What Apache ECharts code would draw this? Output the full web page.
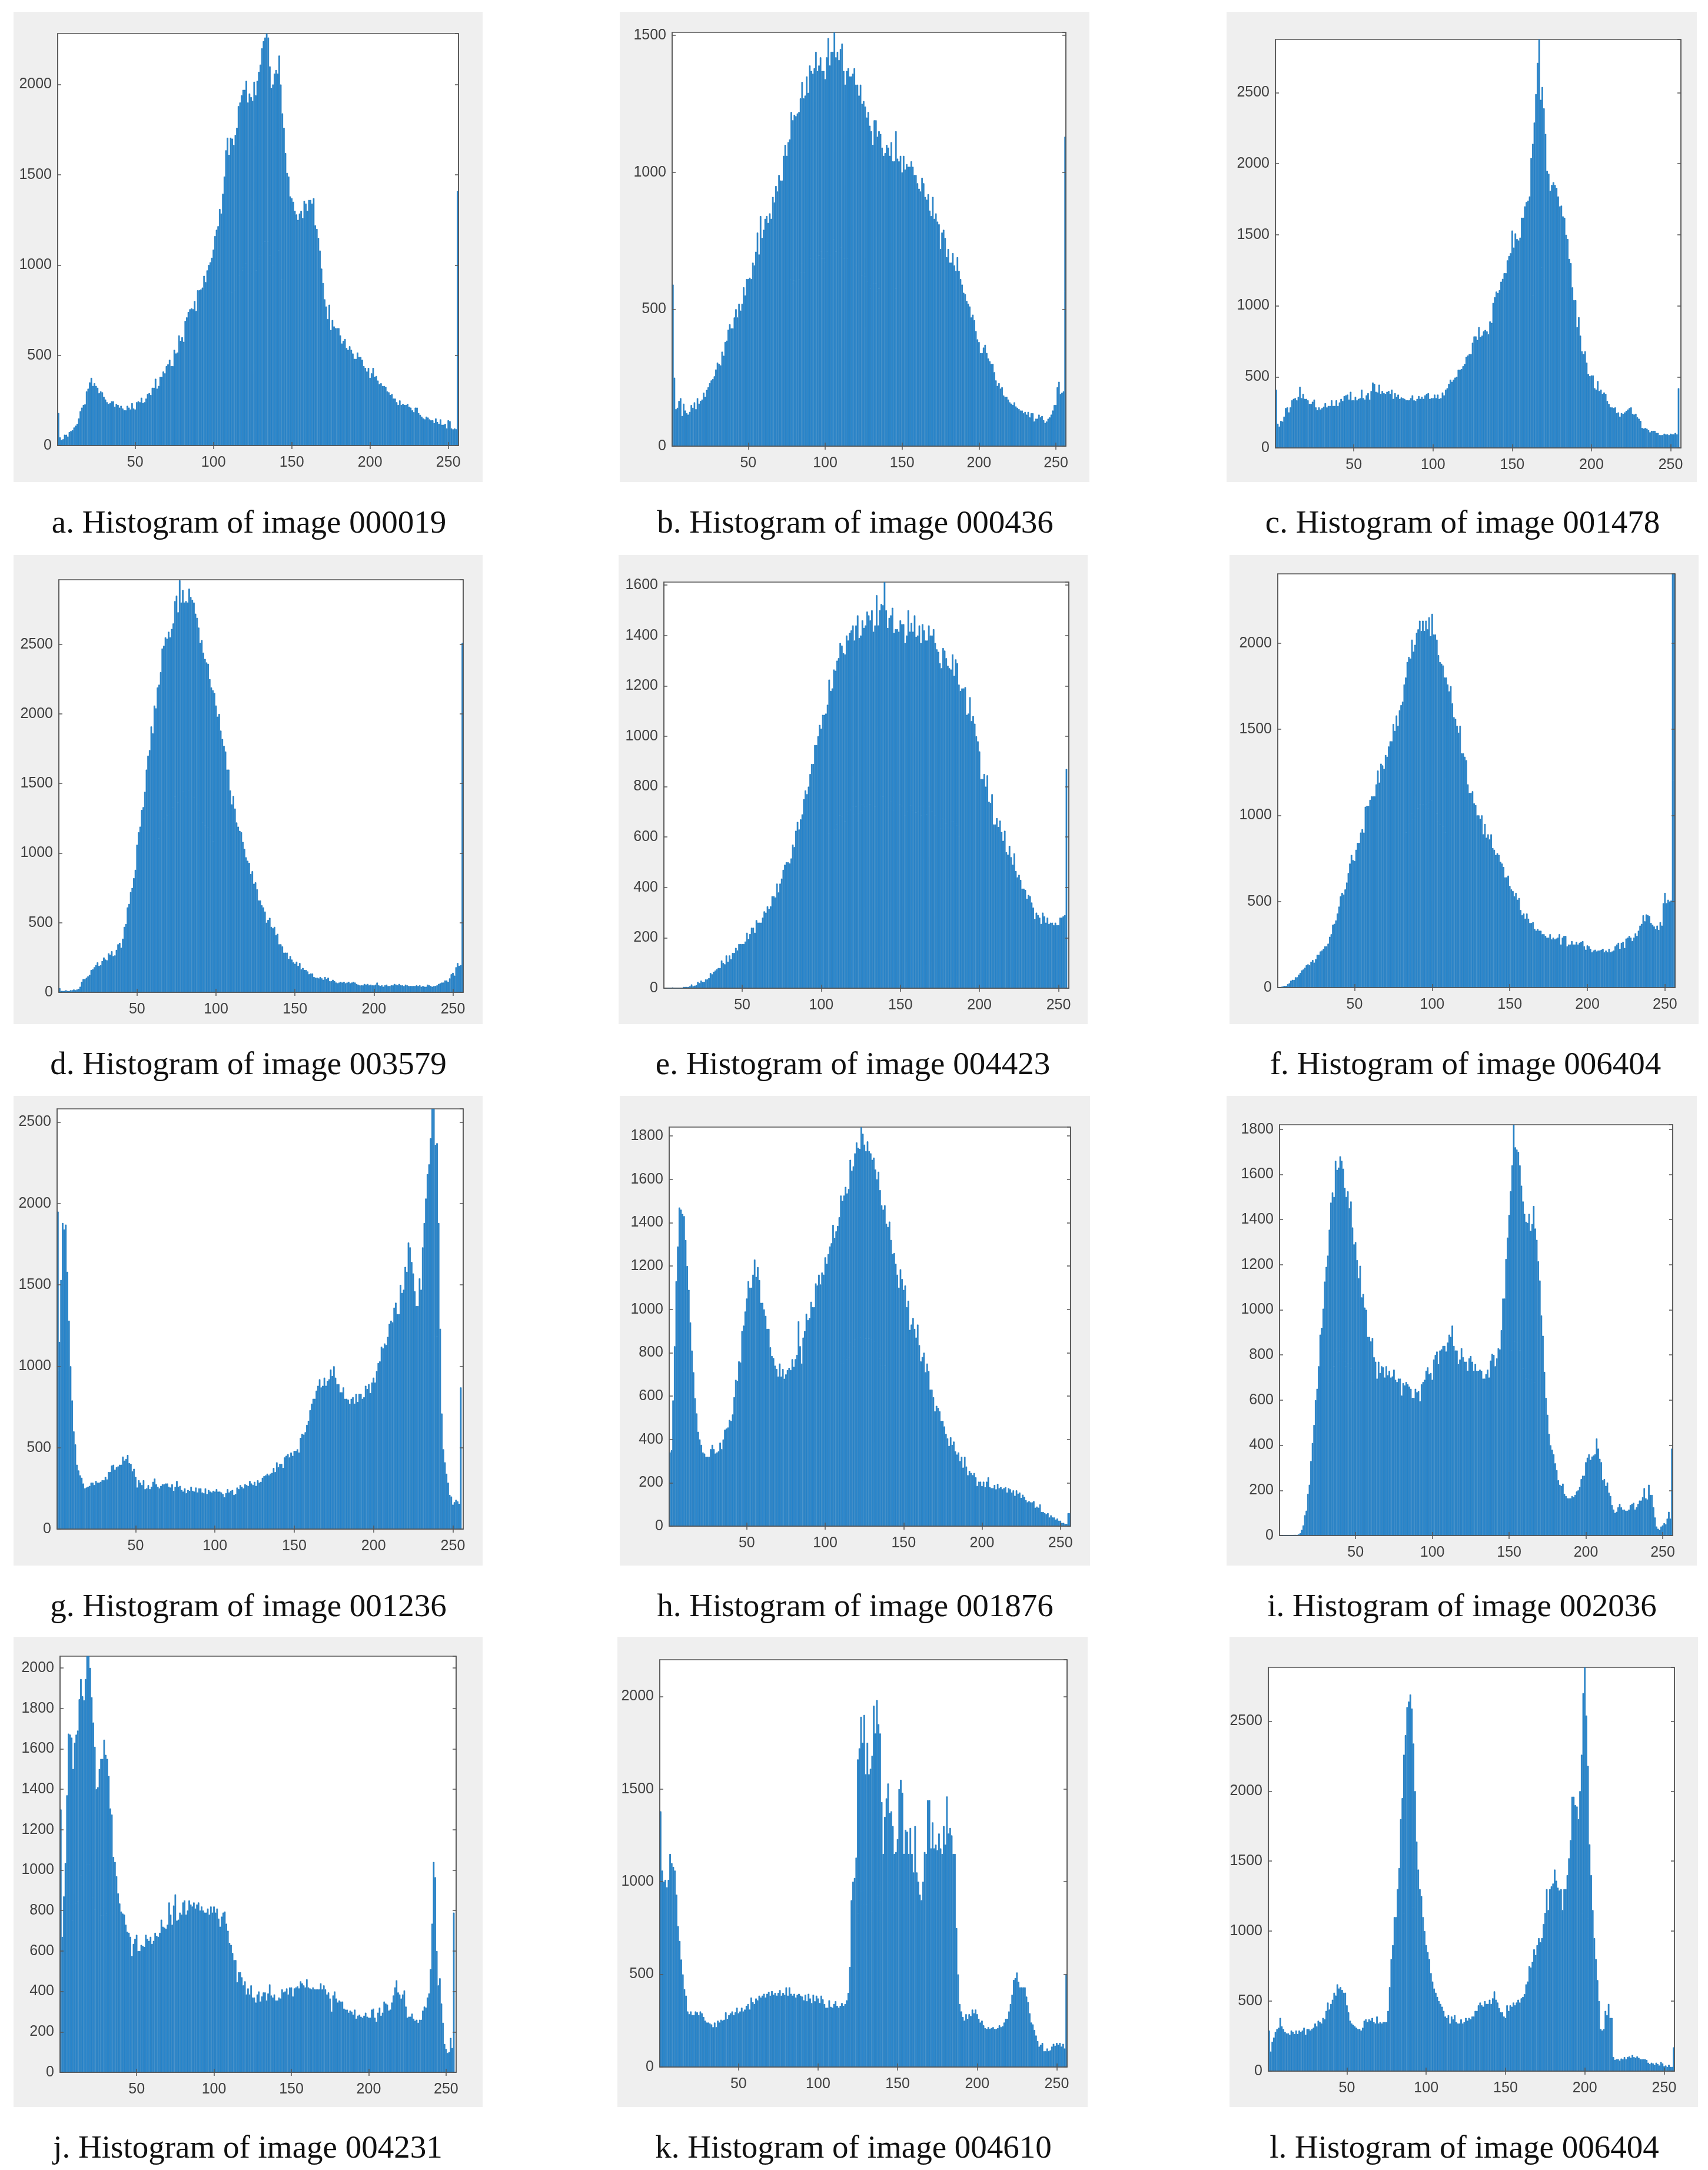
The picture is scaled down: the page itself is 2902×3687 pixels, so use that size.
<!DOCTYPE html>
<html>
<head>
<meta charset="utf-8">
<title>Histograms</title>
<script src="https://cdn.jsdelivr.net/npm/echarts@6/dist/echarts.min.js"></script>
<style>
  html, body { margin: 0; padding: 0; background: #fff; }
  #main { width: 2902px; height: 3687px; }
</style>
</head>
<body>
<div id="main"></div>
<script>
// counts per grey level 1..256 (16 levels per row)
const hist_a = [
180,45,30,35,60,60,50,75,80,85,100,110,120,150,190,210,
225,228,300,315,350,375,330,345,330,320,290,300,295,270,255,240,
230,235,245,245,215,230,225,210,220,205,195,195,220,210,200,235,
205,200,240,245,240,265,235,240,260,285,290,280,320,320,370,315,
330,380,380,410,400,440,450,475,440,440,530,510,515,610,580,600,
575,690,710,740,755,760,755,800,745,860,860,865,875,940,905,970,
1000,1015,1040,1085,1160,1195,1215,1310,1285,1395,1490,1635,1705,1610,1705,1700,
1665,1720,1760,1880,1900,1940,1970,1970,2020,1900,1950,1930,1910,2015,1940,2020,
2070,2110,2200,2240,2260,2282,2260,2100,1980,2000,2060,2080,2060,2160,2000,1840,
1760,1620,1510,1490,1380,1370,1350,1300,1280,1250,1285,1300,1260,1355,1340,1300,
1360,1360,1340,1370,1220,1200,1150,1080,980,900,810,770,700,780,640,695,
660,650,650,650,610,565,580,590,540,530,550,530,510,480,480,515,
490,490,475,440,430,410,430,375,400,430,380,385,360,340,345,330,
330,325,300,295,280,285,260,260,240,225,250,225,230,225,225,230,
215,210,195,185,210,210,180,170,160,150,145,160,155,145,140,140,
125,150,130,120,145,115,115,120,95,140,135,95,90,95,90,1410];
const hist_b = [
590,250,135,140,165,175,110,155,130,120,115,125,150,140,160,135,
175,155,165,170,195,180,205,215,230,240,245,255,280,305,300,295,
345,330,380,385,425,445,430,430,470,500,470,520,495,520,580,550,
610,610,615,610,670,660,710,780,700,840,760,790,830,840,815,850,
830,910,890,950,930,990,970,970,1060,1100,1060,1110,1120,1220,1190,1210,
1205,1215,1220,1270,1330,1270,1280,1350,1290,1390,1370,1360,1380,1440,1370,1390,
1420,1370,1370,1340,1420,1490,1390,1440,1440,1511,1420,1440,1410,1450,1470,1370,
1320,1370,1380,1350,1350,1360,1380,1320,1320,1280,1320,1250,1260,1240,1200,1220,
1170,1150,1100,1190,1190,1130,1150,1140,1090,1060,1070,1100,1090,1060,1110,1040,
1040,1150,1050,1040,1060,1000,1060,1010,1030,1020,1020,1040,1020,990,990,960,
940,930,980,960,910,900,920,860,840,910,830,850,820,810,720,780,
790,760,690,720,670,670,705,660,640,690,640,610,590,560,555,530,
520,510,470,480,460,420,390,380,340,340,360,370,340,320,310,300,
300,270,240,220,230,210,215,185,180,180,170,160,155,150,160,145,
140,135,130,130,120,125,115,125,105,120,120,90,100,100,115,105,
110,95,85,90,100,105,115,130,150,150,215,235,190,195,200,1130];
const hist_c = [
410,170,150,190,185,220,280,285,250,285,335,345,350,335,360,430,
350,380,345,345,335,310,310,325,340,285,265,285,270,280,290,315,
285,295,295,335,295,295,335,295,320,345,330,365,370,375,340,395,
335,335,360,335,345,350,410,350,340,370,385,340,400,460,450,395,
390,445,380,400,385,380,395,400,380,410,345,385,360,375,345,355,
350,345,335,335,335,350,370,335,330,345,365,345,360,345,370,380,
385,345,350,350,375,350,375,345,350,390,370,410,420,450,480,465,
480,495,500,550,550,555,575,590,640,650,660,660,740,785,785,760,
850,780,790,820,830,820,800,890,880,1020,1060,1100,1090,1110,1170,1190,
1230,1230,1320,1350,1370,1530,1410,1510,1470,1460,1480,1620,1620,1700,1730,1740,
1770,2040,2140,2290,2490,2710,2875,2450,2540,2390,2210,1950,1930,1810,1850,1870,
1850,1830,1770,1700,1705,1630,1620,1500,1470,1330,1300,1130,1040,1040,850,920,
790,680,660,680,600,520,505,510,510,420,410,470,400,410,380,390,
380,330,310,285,285,280,285,245,250,220,245,240,250,260,270,280,
285,240,235,240,215,205,190,140,135,140,135,125,110,120,120,120,
105,105,90,90,90,100,95,95,90,100,95,95,105,95,420,0];
const hist_d = [
30,10,10,10,15,10,10,15,15,20,15,20,25,40,75,95,
95,105,115,125,160,165,180,195,215,190,195,225,250,235,230,280,
270,295,260,265,305,345,355,320,385,470,490,610,635,720,750,820,
880,1060,1150,1190,1310,1330,1440,1600,1700,1740,1910,1860,2060,2040,2190,2210,
2300,2470,2490,2550,2540,2590,2550,2610,2650,2810,2850,2730,2960,2800,2890,2800,
2810,2800,2900,2840,2820,2800,2720,2690,2620,2510,2530,2440,2395,2370,2360,2250,
2190,2170,2150,2060,1980,2000,1880,1820,1770,1730,1600,1600,1450,1350,1410,1320,
1220,1190,1160,1150,1080,1030,970,945,930,850,870,780,790,740,660,660,
625,610,580,500,520,535,470,460,470,410,420,345,345,330,285,285,
285,240,260,235,215,205,220,190,210,165,175,160,160,150,130,135,
135,110,105,105,100,110,100,90,110,95,105,80,80,90,80,70,
65,70,75,70,75,65,70,75,65,70,75,70,60,55,50,50,
50,60,55,60,50,55,50,50,55,70,50,45,50,40,50,55,
45,45,50,50,60,55,50,60,50,50,45,55,50,45,45,45,
45,45,50,45,50,40,45,40,40,55,50,45,40,45,45,50,
60,65,70,70,85,85,75,100,130,140,120,180,210,190,195,2510];
const hist_e = [
0,0,0,0,0,3,0,0,0,0,0,0,5,5,5,5,
8,15,8,10,12,25,20,30,25,25,35,35,40,60,55,65,
70,75,80,80,110,100,95,130,105,130,115,140,140,160,150,175,
175,175,175,185,220,195,215,240,240,220,270,260,260,260,280,305,
300,325,315,325,365,365,360,415,380,415,435,470,490,500,500,495,
515,570,560,625,660,630,670,690,750,785,770,800,850,890,890,965,
965,1000,1045,1030,1085,1085,1090,1125,1225,1180,1190,1265,1260,1300,1310,1370,
1360,1330,1325,1400,1380,1410,1420,1440,1380,1440,1480,1390,1400,1460,1430,1440,
1495,1480,1460,1500,1415,1440,1560,1440,1500,1525,1520,1612,1500,1430,1470,1480,
1510,1410,1425,1425,1415,1460,1445,1445,1370,1400,1500,1415,1450,1415,1480,1395,
1400,1440,1370,1445,1420,1380,1380,1440,1400,1400,1425,1370,1345,1335,1290,1270,
1350,1340,1310,1280,1270,1265,1325,1240,1305,1290,1205,1180,1190,1190,1195,1085,
1090,1155,1060,1080,1050,1000,980,940,830,830,850,800,845,740,735,770,
650,650,675,640,665,620,585,625,540,530,565,520,490,535,465,440,
450,430,395,395,390,355,370,365,340,320,275,300,290,280,255,300,
285,260,280,255,260,260,250,260,250,250,280,280,285,290,870,0];
const hist_f = [
0,3,5,8,10,10,20,25,40,45,45,60,60,75,85,100,
105,115,130,135,130,150,160,145,165,190,190,210,215,225,240,240,
255,295,310,365,370,390,430,470,530,550,540,570,610,665,720,770,
740,735,800,840,840,900,920,900,1050,1055,1055,1090,1110,1110,1110,1180,
1260,1190,1300,1290,1270,1350,1340,1400,1430,1430,1530,1490,1580,1520,1610,1640,
1660,1760,1800,1890,1920,1910,2020,1950,1990,2060,2080,2130,2070,2130,2070,2130,
2080,2150,2040,2170,2050,2050,2020,1930,1890,1880,1870,1800,1800,1760,1720,1750,
1650,1570,1560,1520,1480,1520,1360,1360,1340,1320,1180,1130,1130,1140,1070,1060,
1000,1000,980,1000,890,950,870,890,860,890,810,800,770,780,770,730,
720,700,640,640,650,590,570,560,530,550,510,520,450,420,430,400,
430,400,375,375,380,340,330,340,330,330,310,310,300,290,290,310,
280,290,280,285,290,310,250,290,300,300,240,250,250,270,250,250,
265,250,260,265,270,240,220,245,240,225,205,215,220,210,215,215,
220,225,205,215,205,225,205,210,215,240,250,260,225,260,265,230,
285,290,300,290,270,290,315,300,330,360,370,420,385,425,420,415,
375,365,355,340,360,335,380,360,490,550,490,510,500,505,2402,2402];
const hist_g = [
1950,1150,1530,1880,1840,1870,1580,1280,1000,790,600,520,395,360,330,315,
280,250,255,260,265,285,285,270,295,285,285,290,300,300,320,305,
350,350,390,395,365,380,385,395,395,445,420,430,455,405,400,355,
370,320,255,300,285,270,300,245,250,270,245,260,290,310,275,260,
250,265,275,275,280,280,260,255,275,235,260,295,260,265,240,230,
250,220,240,235,260,235,230,255,225,250,250,225,220,250,215,240,
230,225,235,230,245,230,230,225,215,195,220,245,225,235,240,210,
215,255,245,270,260,250,275,270,265,295,280,270,290,265,300,285,
290,315,325,330,340,330,340,345,375,350,410,380,400,400,375,440,
450,460,440,470,450,480,480,490,470,560,585,580,595,640,665,730,
770,800,800,850,880,920,870,880,930,880,910,920,980,940,1000,930,
890,890,840,840,870,800,800,795,770,800,810,770,830,780,830,830,
800,810,880,860,890,835,900,930,900,970,1020,1030,1120,1110,1140,1130,
1180,1260,1280,1270,1360,1390,1320,1320,1500,1450,1470,1610,1580,1760,1730,1640,
1570,1460,1370,1370,1540,1470,1730,1880,2030,2180,2240,2400,2581,2581,2360,2370,
1880,1230,710,490,410,340,285,210,200,150,165,180,170,155,870,0];
const hist_h = [
340,350,580,830,1130,1290,1470,1460,1440,1430,1320,1200,1090,940,810,710,
590,520,435,400,375,340,335,320,320,320,355,375,355,335,340,345,
385,355,400,445,450,455,490,485,515,595,675,670,760,755,900,925,
990,1050,1130,1100,1100,1160,1230,1150,1195,1135,1030,1030,1000,970,910,910,
825,785,775,740,725,690,750,690,725,680,700,720,730,720,770,735,
770,790,945,830,750,870,900,980,950,960,1035,1010,1010,1120,1110,1160,
1115,1170,1160,1240,1210,1255,1290,1305,1390,1330,1360,1385,1425,1525,1500,1525,
1565,1535,1555,1690,1640,1660,1720,1770,1745,1740,1840,1810,1760,1730,1775,1730,
1720,1690,1700,1645,1600,1635,1550,1480,1460,1480,1395,1380,1405,1320,1255,1260,
1210,1160,1100,1185,1140,1090,1110,1010,1040,905,930,960,910,870,930,835,
760,780,800,710,750,715,630,630,595,530,555,545,530,485,485,460,
425,405,370,410,375,390,345,330,340,300,320,270,320,275,235,255,
245,235,245,225,185,205,205,185,205,180,205,225,180,175,175,190,
170,195,175,180,170,175,180,155,175,170,155,165,140,165,150,155,
130,145,135,120,110,115,110,110,115,85,90,85,100,65,65,60,
55,60,40,50,40,40,30,35,25,25,15,15,10,10,60,60];
const hist_i = [
0,0,0,0,0,0,0,0,0,3,3,3,5,10,25,45,
90,110,185,225,330,410,490,600,650,750,890,920,1005,1125,1190,1240,
1355,1475,1520,1500,1660,1620,1630,1680,1660,1625,1540,1500,1525,1450,1480,1365,
1290,1300,1220,1140,1195,1055,1070,1010,1000,880,880,860,875,790,770,695,
770,720,750,745,700,750,710,730,700,705,735,690,680,695,695,620,
675,665,680,670,660,650,610,610,650,635,640,595,670,680,690,730,
745,715,720,690,780,800,815,760,820,825,840,840,815,855,890,880,
930,840,820,820,760,780,830,790,770,770,730,785,795,770,730,760,
730,730,735,730,695,695,715,735,700,775,805,800,750,785,830,825,
910,1050,1050,1225,1320,1420,1525,1640,1820,1720,1710,1700,1640,1550,1480,1425,
1390,1385,1425,1350,1380,1460,1360,1310,1215,1130,975,885,725,610,535,450,
400,380,360,320,290,245,225,220,230,185,175,165,165,165,175,170,
180,195,200,215,250,265,265,325,345,360,335,350,355,360,430,385,
340,325,245,250,220,235,190,175,135,115,100,105,125,140,125,115,
115,110,110,115,135,140,145,115,125,140,155,155,170,210,165,160,
225,180,180,125,80,40,30,25,40,45,55,50,75,105,75,385];
const hist_j = [
1300,670,870,1035,1370,1675,1670,1655,1500,1630,1670,1690,1845,1945,1860,1840,
1945,2058,2058,2000,1855,1730,1610,1400,1410,1500,1550,1550,1645,1570,1550,1465,
1305,1275,1065,1040,970,885,835,795,785,780,730,695,690,670,575,635,
660,680,600,600,630,625,620,680,660,650,670,635,650,690,675,670,
690,755,720,715,710,730,840,780,730,825,880,750,755,790,780,840,
850,780,800,850,830,820,840,810,830,840,800,820,800,790,790,810,
780,820,790,820,790,810,760,720,770,790,795,735,700,640,630,590,
555,555,445,495,495,470,430,450,385,415,385,430,370,370,345,385,
400,350,375,395,395,355,390,435,380,370,385,355,355,370,365,410,
395,400,415,385,420,420,375,415,420,425,415,450,440,430,420,460,
420,415,410,420,410,410,410,410,440,410,430,410,385,395,365,300,
380,400,365,345,355,350,350,315,310,310,295,305,300,285,310,265,
280,285,275,270,280,295,275,270,270,310,315,270,250,295,320,280,
295,350,340,335,305,310,345,380,420,455,395,385,365,385,405,325,
270,275,275,290,265,255,260,245,260,260,305,325,320,370,390,510,
735,1040,965,600,430,465,340,245,140,115,95,100,170,120,790,0];
const hist_k = [
1380,1060,1000,1010,970,1010,1150,1100,1080,1060,930,760,680,580,500,420,
385,300,285,300,280,280,300,295,280,300,290,270,250,240,240,235,
230,215,240,215,250,240,255,250,255,295,260,280,290,300,280,295,
320,290,300,320,300,310,330,340,310,375,350,340,370,360,385,375,
385,395,375,395,405,385,410,390,400,385,400,415,385,400,390,430,
385,430,395,385,395,375,390,395,385,380,360,390,355,395,370,345,
390,355,385,370,345,385,365,340,320,320,360,325,320,340,355,330,
320,330,345,330,340,360,400,540,900,1000,1020,1130,1660,1720,1890,1750,
1900,1580,1750,1580,1610,1680,1950,1800,1980,1850,1800,1430,1150,1350,1450,1530,
1370,1380,1300,1150,1160,1230,1500,1550,1480,1150,1280,1270,1150,1290,1150,1050,
1300,1050,1000,930,900,1000,1160,1150,1440,1440,1180,1320,1180,1200,1170,1260,
1180,1150,1300,1200,1460,1260,1290,1250,1150,1150,750,500,340,300,270,250,
285,260,285,275,310,290,310,285,260,240,250,225,210,205,215,205,
210,215,205,205,210,225,215,220,240,260,260,300,340,390,470,480,
510,460,430,430,430,430,380,350,290,240,230,200,170,140,110,120,
130,85,85,100,85,90,110,125,115,130,120,130,110,125,100,500];
const hist_l = [
290,140,210,240,280,300,310,380,320,300,280,270,270,260,290,280,
265,290,265,290,280,290,310,260,300,300,290,300,310,340,320,360,
350,340,380,370,430,490,440,480,510,560,540,620,590,600,580,560,
560,470,420,360,340,330,320,310,300,300,290,310,360,370,350,370,
360,380,350,340,390,340,350,340,350,350,350,430,600,800,900,1100,
1100,1300,1450,1800,1950,2260,2400,2600,2640,2690,2590,2340,2000,1640,1440,1300,
1250,1100,1000,900,850,800,700,640,590,560,530,500,480,460,430,390,
380,400,340,390,370,400,350,340,340,370,340,350,380,360,380,370,
390,390,430,430,470,490,470,460,500,480,480,510,480,520,570,510,
490,450,420,420,390,380,470,430,470,460,490,470,490,510,490,520,
530,550,620,640,750,740,780,870,830,900,950,920,950,1050,1130,1300,
1150,1300,1320,1340,1440,1360,1310,1290,1300,1150,1300,1300,1400,1520,1650,1960,
1960,1900,1890,1800,2000,2260,2700,2884,2540,2180,1620,1400,1150,950,800,650,
500,300,290,300,430,400,480,380,380,100,80,85,85,75,90,85,
100,85,100,105,95,115,100,95,105,95,85,85,85,85,80,60,
50,60,55,45,60,50,40,65,55,35,40,30,45,30,30,170];

const hists = [hist_a, hist_b, hist_c, hist_d, hist_e, hist_f, hist_g, hist_h, hist_i, hist_j, hist_k, hist_l];
const captions = [
  'a. Histogram of image 000019', 'b. Histogram of image 000436', 'c. Histogram of image 001478',
  'd. Histogram of image 003579', 'e. Histogram of image 004423', 'f. Histogram of image 006404',
  'g. Histogram of image 001236', 'h. Histogram of image 001876', 'i. Histogram of image 002036',
  'j. Histogram of image 004231', 'k. Histogram of image 004610', 'l. Histogram of image 006404'
];
const yMax = [2282, 1511, 2875, 2964, 1612, 2402, 2581, 1841, 1820, 2058, 2198, 2884];
const yStep = [500, 500, 500, 500, 200, 500, 500, 200, 200, 200, 500, 500];
const greyLevels = [];
for (let g = 1; g <= 256; g++) greyLevels.push(String(g));

// layout in page pixels: plot box [left, top, right, bottom]
const plotBox = [
  [98, 57, 779, 757], [1142, 55, 1811, 758], [2167, 67, 2856, 761],
  [100, 985, 787, 1686], [1128, 989, 1816, 1679], [2171, 975, 2846, 1678],
  [97, 1884, 787, 2598], [1137, 1915, 1819, 2593], [2174, 1911, 2842, 2609],
  [102, 2814, 775, 3521], [1121, 2820, 1813, 3512], [2155, 2833, 2845, 3519]
];
// grey panel [left, top, right, bottom]
const panelBox = [
  [23, 20, 820, 819], [1053, 20, 1851, 819], [2084, 20, 2883, 819],
  [23, 943, 820, 1740], [1051, 943, 1848, 1740], [2089, 943, 2886, 1740],
  [23, 1862, 820, 2660], [1053, 1862, 1852, 2660], [2084, 1862, 2883, 2660],
  [23, 2781, 820, 3580], [1049, 2781, 1848, 3580], [2089, 2781, 2885, 3580]
];
const captionX = [418, 1448, 2480, 417, 1444, 2485, 417, 1448, 2479, 416, 1445, 2483];
const captionY = [886, 886, 886, 1806, 1806, 1806, 2727, 2727, 2727, 3647, 3647, 3647];

const isLabelled = function (index, value) { return Number(value) % 50 === 0; };
const AXIS = '#555555';
const TEXT = '#404040';

const grid = [], xAxis = [], yAxis = [], series = [], title = [], rects = [];
hists.forEach(function (counts, i) {
  const p = plotBox[i], b = panelBox[i];
  rects.push({
    type: 'rect', z: -10, silent: true,
    shape: { x: b[0], y: b[1], width: b[2] - b[0], height: b[3] - b[1] },
    style: { fill: '#efefef' }
  });
  title.push({
    text: captions[i], left: captionX[i], top: captionY[i],
    textAlign: 'center', textVerticalAlign: 'middle',
    textStyle: { fontFamily: 'Liberation Serif', fontSize: 55, fontWeight: 'normal', color: '#111111' }
  });
  grid.push({
    left: p[0], top: p[1], width: p[2] - p[0], height: p[3] - p[1],
    show: true, backgroundColor: '#ffffff', borderColor: AXIS, borderWidth: 1.5
  });
  const tick = { show: true, inside: true, length: 6, alignWithLabel: true, interval: isLabelled, lineStyle: { color: AXIS, width: 1.5 } };
  xAxis.push({
    type: 'category', gridIndex: i, data: greyLevels, position: 'bottom', z: 5,
    axisLine: { show: true, lineStyle: { color: AXIS, width: 1.5 } }, axisTick: tick,
    axisLabel: { interval: isLabelled, margin: 17, fontFamily: 'Liberation Sans', fontSize: 25, color: TEXT }
  }, {
    type: 'category', gridIndex: i, data: greyLevels, position: 'top', z: 5,
    axisLine: { show: false }, axisTick: tick, axisLabel: { show: false }
  });
  const yTick = { show: true, inside: true, length: 6, lineStyle: { color: AXIS, width: 1.5 } };
  yAxis.push({
    type: 'value', gridIndex: i, min: 0, max: yMax[i], interval: yStep[i], position: 'left', z: 5,
    splitLine: { show: false },
    axisLine: { show: true, lineStyle: { color: AXIS, width: 1.5 } }, axisTick: yTick,
    axisLabel: {
      margin: 10, showMaxLabel: false, fontFamily: 'Liberation Sans', fontSize: 25, color: TEXT,
      formatter: function (v) { return v % yStep[i] === 0 ? String(v) : ''; }
    }
  }, {
    type: 'value', gridIndex: i, min: 0, max: yMax[i], interval: yStep[i], position: 'right', z: 5,
    splitLine: { show: false },
    axisLine: { show: true, lineStyle: { color: AXIS, width: 1.5 } }, axisTick: yTick, axisLabel: { show: false }
  });
  series.push({
    type: 'bar', xAxisIndex: i * 2, yAxisIndex: i * 2, data: counts,
    barCategoryGap: '0%', silent: true,
    itemStyle: { color: '#2e8ad0', borderColor: '#1673ba', borderWidth: 0.8 }
  });
});

const myChart = echarts.init(document.getElementById('main'));
myChart.setOption({
  animation: false,
  backgroundColor: '#ffffff',
  title: title,
  grid: grid,
  xAxis: xAxis,
  yAxis: yAxis,
  series: series,
  graphic: { elements: rects }
});
</script>
</body>
</html>
